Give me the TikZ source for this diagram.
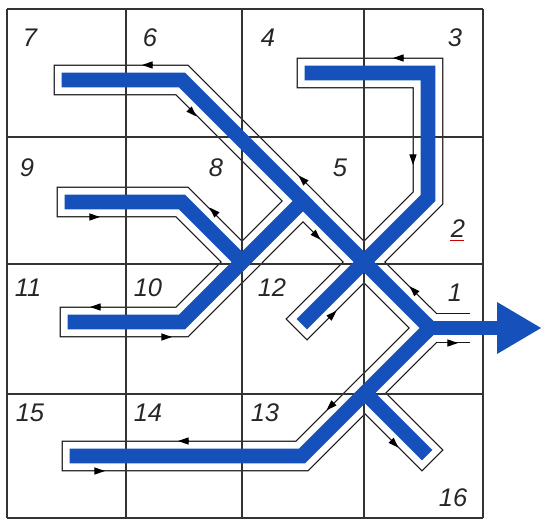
\documentclass[tikz,border=0pt]{standalone}
\usepackage{fontspec}
\setmainfont{Liberation Sans}
\usetikzlibrary{arrows.meta}

\definecolor{flowblue}{RGB}{22,80,186}

% the branches of the network, drawn once per layer
\newcommand{\ducts}[1]{%
  \draw[#1] (69,80) -- (182,80) -- (out);          % 7 - 6 - main line
  \draw[#1] (72,202) -- (182,202) -- (j2);         % 9 - 8
  \draw[#1] (75,322) -- (182,322) -- (j1);         % 11 - 10
  \draw[#1] (312,73) -- (428,73) -- (428,198) -- (307,319); % 3 - 2 - 12
  \draw[#1] (out) -- (302,456) -- (77,456);        % 13 - 14 - 15
  \draw[#1] (j3) -- (422,450);                     % 16
}

\begin{document}
\begin{tikzpicture}[x=0.02cm, y=-0.02cm,
    wall/.style={line width=17.4pt, line join=miter, line cap=rect, black!90},
    gap/.style={line width=16pt, line join=miter, line cap=rect, white},
    core/.style={line width=8.4pt, line join=miter, line cap=rect, flowblue},
    cell/.style={black!80, line width=0.6pt},
    flow/.style={black, line width=0.6pt, -{Triangle[length=6pt, width=4pt]}},
    num/.style={font=\fontsize{14.5}{14.5}\selectfont\itshape, text=black!85, inner sep=0pt}]

  \useasboundingbox (0,0) rectangle (541,520);

  % junctions
  \coordinate (j1) at (303,201);
  \coordinate (j2) at (242,262);
  \coordinate (j3) at (365,393);
  \coordinate (out) at (430,328);
  \coordinate (mouth) at (470,328);

  % channel walls
  \ducts{wall}
  \draw[wall, line cap=butt] (out) -- (mouth);
  \ducts{gap}
  \draw[gap, line cap=butt] (out) -- (mouth);

  % grid
  \foreach \x in {7,126,242,364,483}
    \draw[cell] (\x,9) -- (\x,518);
  \foreach \y in {9,137,264,394,518}
    \draw[cell] (7,\y) -- (483,\y);

  % blue flow lines and outlet
  \ducts{core}
  \draw[core, line cap=butt] (out) -- (500,328);
  \fill[flowblue] (497,302) -- (541,328) -- (497,354) -- cycle;

  % direction of flow along the walls
  \draw[flow] (152,65) -- ++(-10,0);
  \draw[flow] (189.5,109.5) -- ++(7,7);
  \draw[flow] (90,217) -- ++(10,0);
  \draw[flow] (216.5,214.5) -- ++(-7,-7);
  \draw[flow] (305.5,182.5) -- ++(-7,-7);
  \draw[flow] (313.5,232.7) -- ++(7,7);
  \draw[flow] (403,58) -- ++(-10,0);
  \draw[flow] (413,155) -- ++(0,10);
  \draw[flow] (416.5,293.3) -- ++(-7,-7);
  \draw[flow] (448,343) -- ++(10,0);
  \draw[flow] (329.5,317.7) -- ++(7,-7);
  \draw[flow] (333.5,403.3) -- ++(-7,7);
  \draw[flow] (391.5,440.7) -- ++(7,7);
  \draw[flow] (100,307) -- ++(-10,0);
  \draw[flow] (162,337) -- ++(10,0);
  \draw[flow] (188,441) -- ++(-10,0);
  \draw[flow] (95,471) -- ++(10,0);

  % cell numbers
  \node[num] (n7) at (30,38) {7};
  \node[num] (n6) at (150,38) {6};
  \node[num] (n4) at (268,38) {4};
  \node[num] (n3) at (455,38) {3};
  \node[num] (n9) at (27,168) {9};
  \node[num] (n8) at (216,168) {8};
  \node[num] (n5) at (340,168) {5};
  \node[num] (n2) at (458,229) {2};
  \node[num] (n11) at (28,288) {11};
  \node[num] (n10) at (148,288) {10};
  \node[num] (n12) at (272,288) {12};
  \node[num] (n1) at (455,293) {1};
  \node[num] (n15) at (30,413) {15};
  \node[num] (n14) at (148,413) {14};
  \node[num] (n13) at (265,413) {13};
  \node[num] (n16) at (453,498) {16};
  \draw[red!80!black, line width=0.6pt] (n2.south west) ++(-1,2) -- ++(14,0);
\end{tikzpicture}
\end{document}
